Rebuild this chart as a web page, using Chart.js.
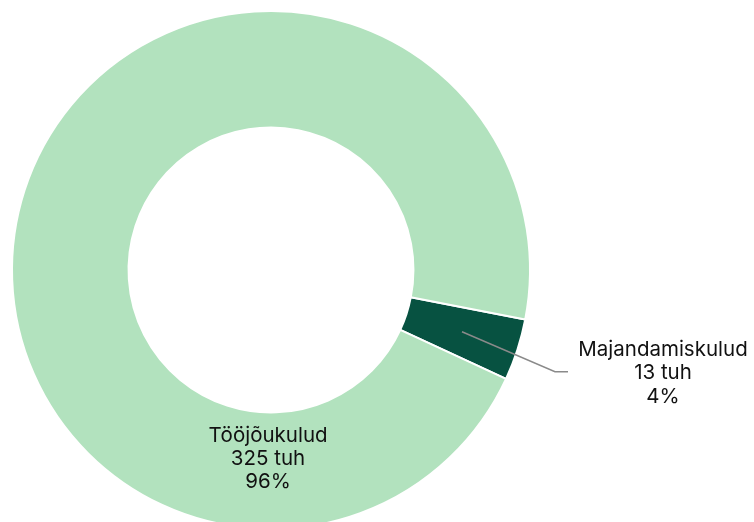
<!DOCTYPE html>
<html>
<head>
<meta charset="utf-8">
<script src="https://cdn.jsdelivr.net/npm/chart.js@4/dist/chart.umd.min.js"></script>
<style>
html, body { margin: 0; padding: 0; background: #fff; overflow: hidden; }
#wrap { position: relative; width: 754px; height: 540px; }
</style>
</head>
<body>
<div id="wrap"><canvas id="chart"></canvas></div>
<script>
const labels = ["Majandamiskulud", "Tööjõukulud"]
const values = [13, 325]
const percents = ["4%", "96%"]
const colors = ["#075241", "#b2e2be"]

// custom labels: first one outside with a leader line, second one inside the ring
const sliceLabels = {
	id: 'sliceLabels',
	afterDatasetsDraw(chart) {
		const ctx = chart.ctx
		const arcs = chart.getDatasetMeta(0).data
		ctx.save()
		ctx.font = '20.5px Inter, "Noto Sans", sans-serif'
		ctx.fillStyle = '#111111'
		ctx.textAlign = 'center'
		ctx.textBaseline = 'middle'

		// Majandamiskulud
		let a = arcs[0]
		let mid = (a.startAngle + a.endAngle) / 2
		let rMid = (a.innerRadius + a.outerRadius) / 2
		let x0 = a.x + Math.cos(mid) * rMid, y0 = a.y + Math.sin(mid) * rMid
		let x1 = x0 + 93, y1 = y0 + 40
		ctx.strokeStyle = '#8a8a8a'
		ctx.lineWidth = 1.5
		ctx.beginPath()
		ctx.moveTo(x0, y0)
		ctx.lineTo(x1, y1)
		ctx.lineTo(x1 + 13, y1)
		ctx.stroke()
		let tx = x1 + 108
		ctx.fillText(labels[0], tx, y1 - 22)
		ctx.fillText(values[0] + ' tuh', tx, y1 + 1)
		ctx.fillText(percents[0], tx, y1 + 25)

		// Tööjõukulud, placed at the bottom of the ring
		a = arcs[1]
		rMid = (a.innerRadius + a.outerRadius) / 2 - 12
		let bx = a.x - 3, by = a.y + rMid
		ctx.fillText(labels[1], bx, by - 23)
		ctx.fillText(values[1] + ' tuh', bx, by)
		ctx.fillText(percents[1], bx, by + 23)
		ctx.restore()
	}
}

const chart = new Chart(document.getElementById('chart'), {
	type: 'doughnut',
	data: {
		labels: labels,
		datasets: [{
			data: values,
			backgroundColor: colors,
			borderColor: '#ffffff',
			borderWidth: 2
		}]
	},
	options: {
		responsive: true,
		maintainAspectRatio: false,
		animation: false,
		rotation: 101,
		cutout: '55%',
		layout: { padding: { left: 11, right: 223, top: 10, bottom: 10 } },
		plugins: {
			legend: { display: false },
			tooltip: { enabled: false }
		}
	},
	plugins: [sliceLabels]
})
</script>
</body>
</html>
